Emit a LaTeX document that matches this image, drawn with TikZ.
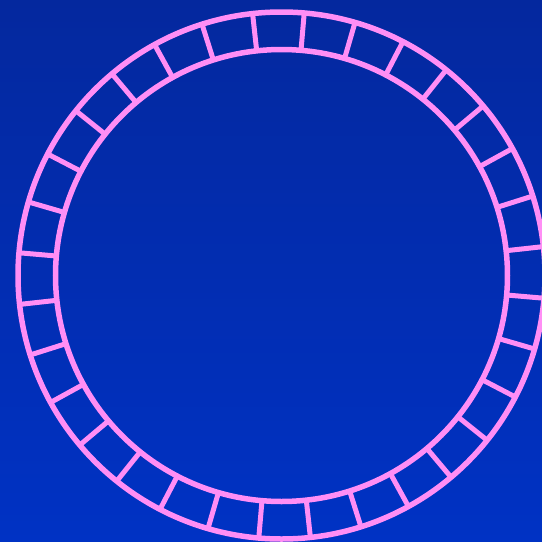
\documentclass[tikz,border=0pt]{standalone}
\usetikzlibrary{calc}
\definecolor{bgtop}{RGB}{4,40,158}
\definecolor{bgbot}{RGB}{0,50,196}
\definecolor{ringpink}{RGB}{255,142,245}
\begin{document}
\begin{tikzpicture}[x=1pt,y=-1pt,
  ring/.style={draw=ringpink,line width=5.5pt},
  spoke/.style={draw=ringpink,line width=5pt}]
\useasboundingbox (0,0) rectangle (542,542);
\clip (0,0) rectangle (542,542);
\shade[top color=bgtop,bottom color=bgbot] (0,0) rectangle (542,542);
\coordinate (c) at (281.5,275.5);
\foreach \k in {0,...,31}{
  \pgfmathsetmacro{\a}{6.3+11.25*\k}
  \draw[spoke] ($(c)+({cos(\a)*226},{-sin(\a)*226})$) -- ($(c)+({cos(\a)*263.5},{-sin(\a)*263.5})$);
}
\draw[ring] (c) circle[radius=263.5];
\draw[ring] (c) circle[radius=226];
\end{tikzpicture}
\end{document}
